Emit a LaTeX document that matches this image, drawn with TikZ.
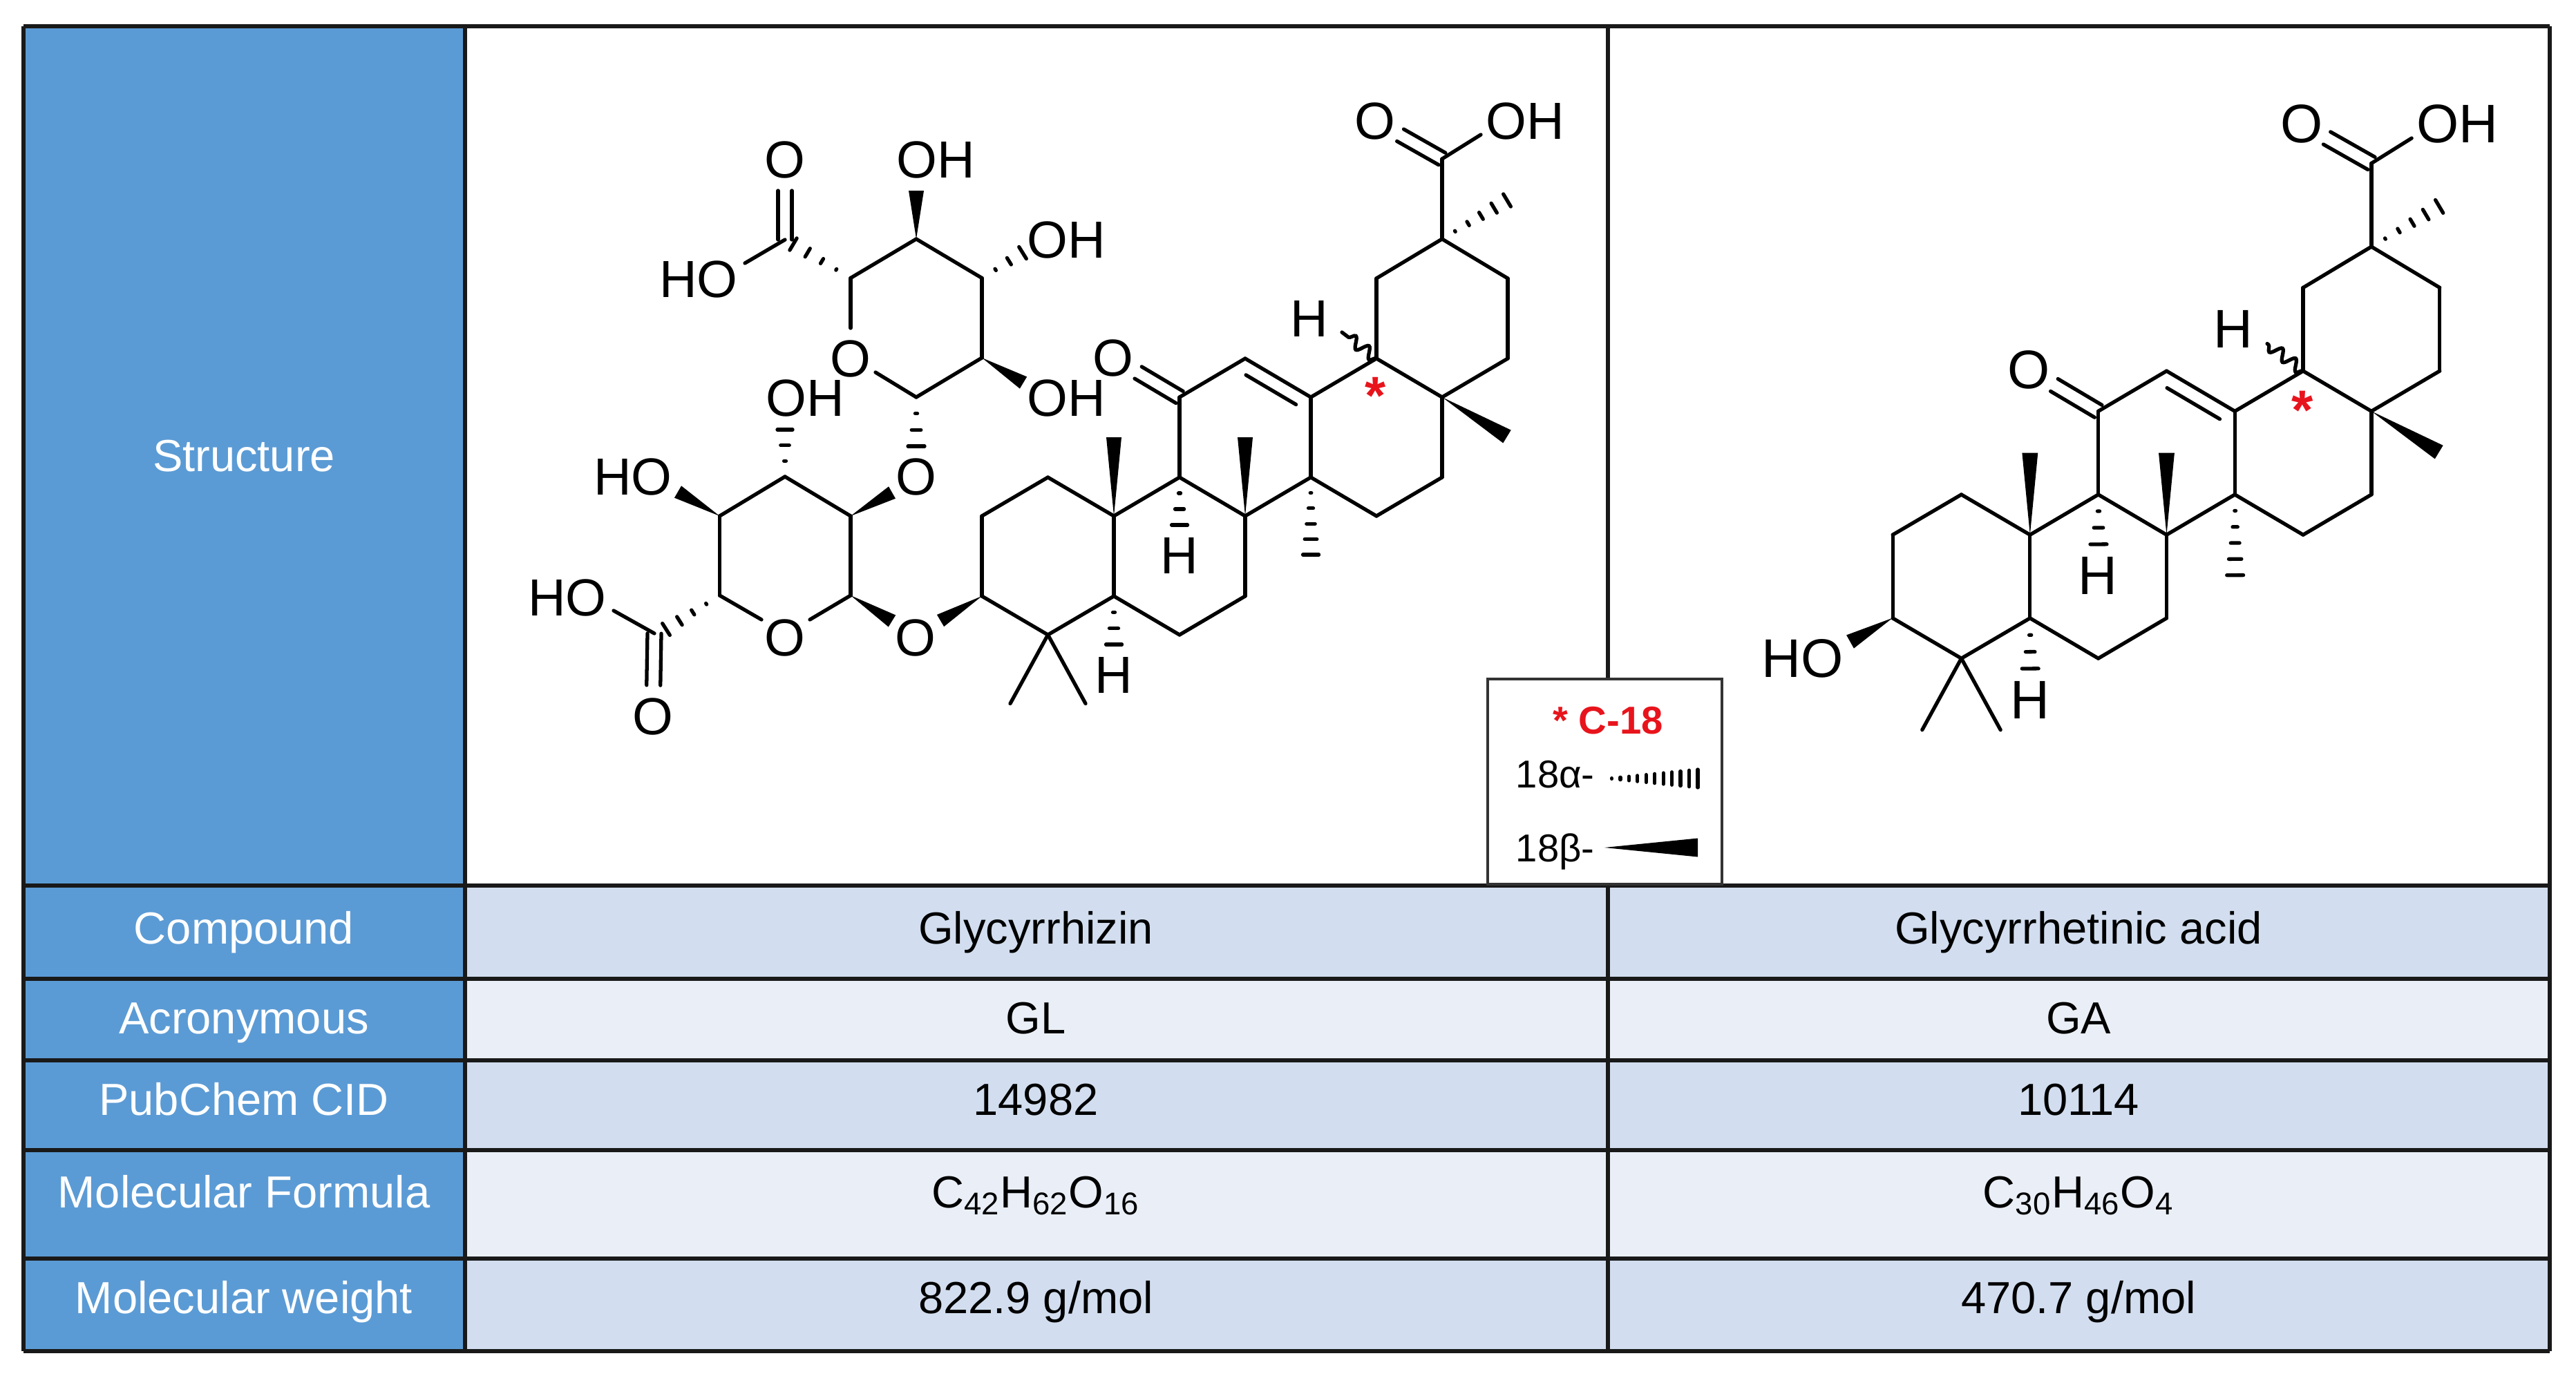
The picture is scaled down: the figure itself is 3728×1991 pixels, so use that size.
\documentclass[tikz,border=0pt]{standalone}
\usepackage{fontspec}
\setmainfont{Liberation Sans}
\usetikzlibrary{calc,decorations.pathmorphing}

\definecolor{headblue}{HTML}{5B9BD5}
\definecolor{banddark}{HTML}{D2DEEF}
\definecolor{bandlight}{HTML}{EAEFF7}
\definecolor{starred}{HTML}{E8141C}

\newcommand{\cellfont}{\fontsize{18.5}{22}\selectfont}
\newcommand{\chemfont}{\fontsize{21.5}{24}\selectfont}
\newcommand{\keyfont}{\fontsize{16}{19}\selectfont}

% from, to, half width in cm
\newcommand{\wedgebond}[3]{\fill (#1) -- ($(#2)!#3cm!90:(#1)$) -- ($(#2)!#3cm!-90:(#1)$) -- cycle;}
% from, to, number of ticks, half width in cm
\newcommand{\hashbond}[4]{%
  \foreach \tick in {1,...,#3}{
    \pgfmathsetmacro{\tickpos}{\tick/#3}
    \pgfmathsetmacro{\tickhalf}{#4*(\tick-0.7)/(#3-0.7)}
    \coordinate (hashpt) at ($(#1)!\tickpos!(#2)$);
    \draw[bond] ($(hashpt)!\tickhalf cm!90:(#1)$) -- ($(hashpt)!\tickhalf cm!-90:(#1)$);
  }}
% from, to, shortening at the far end
\newcommand{\dbond}[3]{%
  \draw[bond, shorten >=#3] ($(#1)!0.1cm!90:(#2)$) -- ($(#2)!0.1cm!-90:(#1)$);
  \draw[bond, shorten >=#3] ($(#1)!0.1cm!-90:(#2)$) -- ($(#2)!0.1cm!90:(#1)$);}

% ring skeleton shared by both compounds, #1 = name prefix
\newcommand{\triterpene}[1]{%
  \foreach \n/\px/\py in {a1/1421/747, a2/1516.5/691, a3/1612/747, a4/1612/863, a5/1516.5/919, a6/1421/863,
      b1/1707/691, b2/1802/747, b3/1802/863, b4/1707/919, c1/1707/575, c2/1802/519, c3/1897/575, c4/1897/691,
      d1/1992/519, d2/2087/575, d3/2087/691, d4/1992/747, e1/1992/403, e2/2087/346, e3/2182/403, e4/2182/519,
      f1/2087/230, f2/2143/195, g1/1462/1018.5, g2/1571/1018.5, m1/1612/633, m2/1802/633, m3/2181/632, m4/2181/290,
      h1/1707/760, h2/1897/803, h3/1612/933, w1/1942/481}
    \coordinate (#1\n) at (\px,\py);
  \foreach \s/\t in {a1/a2, a2/a3, a3/a4, a4/a5, a5/a6, a6/a1, a3/b1, b1/b2, b2/b3, b3/b4, b4/a4,
      b1/c1, c1/c2, c2/c3, c3/c4, c4/b2, c3/d1, d1/d2, d2/d3, d3/d4, d4/c4,
      d1/e1, e1/e2, e2/e3, e3/e4, e4/d2, e2/f1, f1/f2, a5/g1, a5/g2}
    \draw[bond] (#1\s) -- (#1\t);
  \draw[bond, shorten <=0.13cm, shorten >=0.13cm] ($(#1c2)!0.2cm!-90:(#1c3)$) -- ($(#1c3)!0.2cm!90:(#1c2)$);
  \draw[bond, decorate, decoration={snake, segment length=0.24cm, amplitude=0.08cm}] (#1d1) -- (#1w1);
  \node[atom] (#1oket) at (1611,518) {O};
  \node[atom] (#1ocooh) at (1990,175) {O};
  \node[atom] (#1ohcooh) at (2207,175) {OH};
  \node[atom] (#1hw) at (1895,461) {H};
  \node[atom] (#1hc) at (1707,804) {H};
  \node[atom] (#1ha) at (1612,977) {H};
  \node[star] (#1star) at (1991,546) {*};
  \dbond{#1c1}{#1oket}{0.42cm}
  \dbond{#1f1}{#1ocooh}{0.42cm}
  \wedgebond{#1a3}{#1m1}{0.11}
  \wedgebond{#1b2}{#1m2}{0.11}
  \wedgebond{#1d2}{#1m3}{0.11}
  \hashbond{#1e2}{#1m4}{5}{0.105}
  \hashbond{#1b1}{#1h1}{3}{0.115}
  \hashbond{#1c4}{#1h2}{5}{0.115}
  \hashbond{#1a4}{#1h3}{3}{0.115}}

\tikzset{
  bond/.style={line width=1.5pt, line cap=round},
  atom/.style={font=\chemfont, inner sep=0pt},
  star/.style={font=\fontsize{22}{22}\selectfont\bfseries, text=starred, anchor=north, inner sep=0pt},
  rowhead/.style={font=\cellfont, text=white, anchor=base, inner sep=0pt},
  rowcell/.style={font=\cellfont, anchor=base, inner sep=0pt},
  rule/.style={line width=1.5pt, black!90},
  keybox/.style={draw=black!80, fill=white, line width=1pt, minimum width=3.39cm, minimum height=2.97cm, inner sep=0pt}
}

\begin{document}
\begin{tikzpicture}[x=0.01cm, y=-0.01cm]
  \useasboundingbox (0,0) rectangle (3728,1991);

  % table fills
  \fill[headblue] (34,38) rectangle (673,1956);
  \foreach \ytop/\ybot/\shade in {1282/1417/banddark, 1417/1535/bandlight, 1535/1665/banddark, 1665/1822/bandlight, 1822/1956/banddark}
    \fill[\shade] (673,\ytop) rectangle (3690,\ybot);

  % table rules
  \foreach \yrule in {38,1282,1417,1535,1665,1822,1956}
    \draw[rule] (34,\yrule) -- (3690,\yrule);
  \foreach \xrule in {34,673,3690}
    \draw[rule] (\xrule,38) -- (\xrule,1956);
  \draw[rule] (2327,38) -- (2327,983);
  \draw[rule] (2327,1282) -- (2327,1956);

  % left column
  \node[font=\cellfont, text=white, inner sep=0pt] (structure) at (353,660) {Structure};
  \node[rowhead] (compound) at (353,1366) {Compound};
  \node[rowhead] (acronym) at (353,1496) {Acronymous};
  \node[rowhead] (cid) at (353,1614) {PubChem CID};
  \node[rowhead] (formula) at (353,1748) {Molecular Formula};
  \node[rowhead] (weight) at (353,1901) {Molecular weight};

  % glycyrrhizin column
  \node[rowcell] (glname) at (1499,1366) {Glycyrrhizin};
  \node[rowcell] (glacr) at (1499,1496) {GL};
  \node[rowcell] (glcid) at (1499,1614) {14982};
  \node[rowcell] (glform) at (1499,1748) {C\textsubscript{42}H\textsubscript{62}O\textsubscript{16}};
  \node[rowcell] (glweight) at (1499,1901) {822.9 g/mol};

  % glycyrrhetinic acid column
  \node[rowcell] (ganame) at (3008,1366) {Glycyrrhetinic acid};
  \node[rowcell] (gaacr) at (3008,1496) {GA};
  \node[rowcell] (gacid) at (3008,1614) {10114};
  \node[rowcell] (gaform) at (3008,1748) {C\textsubscript{30}H\textsubscript{46}O\textsubscript{4}};
  \node[rowcell] (gaweight) at (3008,1901) {470.7 g/mol};

  % GL
  \triterpene{gl}
  \foreach \n/\px/\py in {s1/1231/402.5, s2/1326/346, s3/1421/402.5, s4/1421/518, s5/1326/575,
      t1/1041.5/747, t2/1136/690, t3/1231/747, t4/1231/862, t5/1041.5/862,
      cu/1136/347, cl/947/917, cue/1078/381, cle/888/884, so/1231/475, soe/1267/539,
      tol/1102/897, tor/1172/897, wa/1326/276, wb/1481/554, wc/1291/713, wd/981/712, we/1291/899, wf/1361/898.5,
      ha/1148/353.5, hb/1480/366, hc/1326/646, hd/1136/622, he/964/911}
    \coordinate (\n) at (\px,\py);
  \foreach \s/\t in {so/s1, s1/s2, s2/s3, s3/s4, s4/s5, s5/soe, t1/t2, t2/t3, t3/t4, t4/tor, tol/t5, t5/t1, cu/cue, cl/cle}
    \draw[bond] (\s) -- (\t);
  \node[atom] (ocua) at (1136,231) {O};
  \node[atom] (ocla) at (945,1037) {O};
  \node[atom] (ohtop) at (1354,231) {OH};
  \node[atom] (ohright) at (1543,347) {OH};
  \node[atom] (ohlow) at (1543,576) {OH};
  \node[atom] (ohmid) at (1165,576) {OH};
  \node[atom] (hocu) at (1011,404) {HO};
  \node[atom] (hoside) at (916,690) {HO};
  \node[atom] (hocl) at (821,865) {HO};
  \node[atom] (oringu) at (1231,519) {O};
  \node[atom] (oringl) at (1136,923) {O};
  \node[atom] (olinku) at (1326,690) {O};
  \node[atom] (olinkl) at (1325,923) {O};
  \dbond{cu}{ocua}{0.45cm}
  \dbond{cl}{ocla}{0.45cm}
  \wedgebond{s2}{wa}{0.11}
  \wedgebond{s4}{wb}{0.1}
  \wedgebond{t3}{wc}{0.1}
  \wedgebond{t1}{wd}{0.1}
  \wedgebond{t4}{we}{0.1}
  \wedgebond{gla6}{wf}{0.1}
  \hashbond{s1}{ha}{4}{0.1}
  \hashbond{s3}{hb}{3}{0.1}
  \hashbond{s5}{hc}{3}{0.12}
  \hashbond{t2}{hd}{3}{0.11}
  \hashbond{t5}{he}{4}{0.1}

  % GA
  \begin{scope}[shift={(1261,-2.8)}, scale=1.04, transform shape]
    \triterpene{ga}
  \end{scope}
  \coordinate (wg) at (2677.5,929);
  \node[atom, font=\fontsize{22.4}{25}\selectfont] (hoga) at (2609,953) {HO};
  \wedgebond{gaa6}{wg}{0.11}

  % key
  \node[keybox] (key) at (2322.5,1131.5) {};
  \node[font=\keyfont\bfseries, text=starred, inner sep=0pt] (keytitle) at (2327,1043) {* C-18};
  \node[font=\keyfont, anchor=base west, inner sep=0pt] (keya) at (2193,1140) {18α-};
  \node[font=\keyfont, anchor=base west, inner sep=0pt] (keyb) at (2193,1247) {18β-};
  \coordinate (keyas) at (2320,1127);
  \coordinate (keyae) at (2457,1127);
  \coordinate (keybs) at (2322,1227);
  \coordinate (keybe) at (2457,1227);
  \hashbond{keyas}{keyae}{11}{0.13}
  \wedgebond{keybs}{keybe}{0.135}
\end{tikzpicture}
\end{document}
